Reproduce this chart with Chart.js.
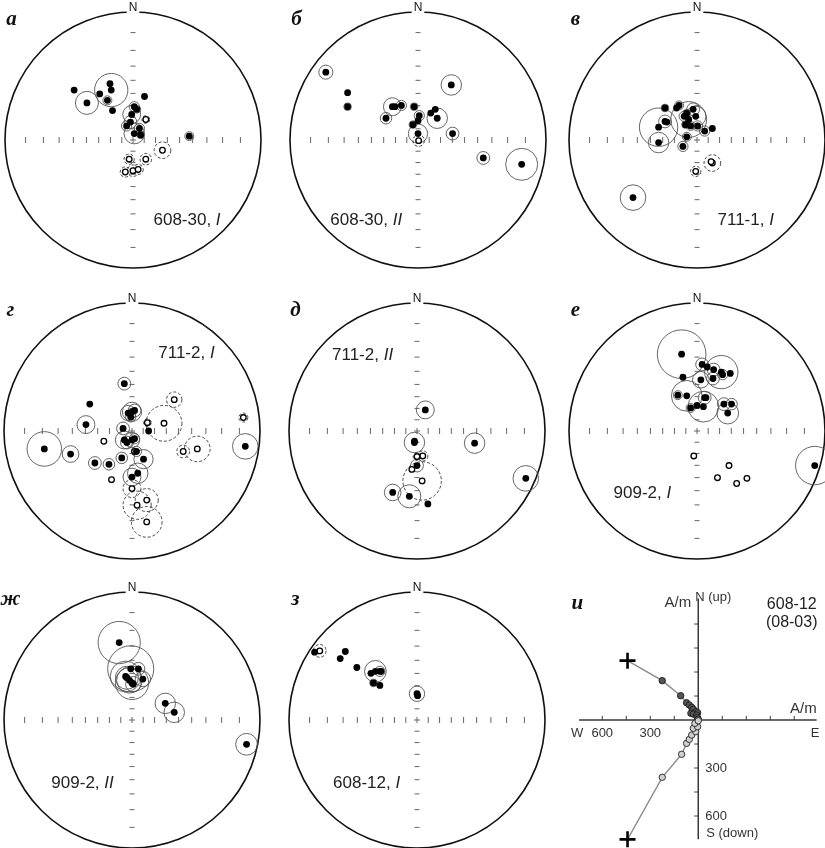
<!DOCTYPE html>
<html lang="ru">
<head>
<meta charset="UTF-8">
<title>Stereonets 608-30 / 711 / 909 / 608-12</title>
<script src="https://cdn.jsdelivr.net/npm/chart.js@4.4.1/dist/chart.umd.min.js"></script>
<style>
    html, body {
        margin: 0;
        padding: 0;
        background: #fff;
        overflow: hidden;
    }
    #fig {
        position: relative;
        width: 825px;
        height: 848px;
    }
    #fig canvas {
        position: absolute;
    }
</style>
</head>
<body>
<div id="fig">
    <canvas id="netA" width="282" height="282"></canvas>
    <canvas id="netB" width="282" height="282"></canvas>
    <canvas id="netC" width="282" height="282"></canvas>
    <canvas id="netD" width="282" height="282"></canvas>
    <canvas id="netE" width="282" height="282"></canvas>
    <canvas id="netF" width="282" height="282"></canvas>
    <canvas id="netG" width="282" height="282"></canvas>
    <canvas id="netH" width="282" height="282"></canvas>
    <canvas id="zij" width="265" height="263"></canvas>
</div>

<script>
    // Directions in Wulff projection coordinates (fraction of net radius): [x (E), y (N), alpha95]
    // lower = lower hemisphere (filled), upper = upper hemisphere (open, dashed circle)
    const netA_lower = [
        [-0.46, 0.39, 0], [-0.36, 0.29, 0.09], [-0.26, 0.36, 0], [-0.18, 0.44, 0], [-0.17, 0.39, 0.13],
        [-0.20, 0.31, 0.035], [-0.16, 0.23, 0], [0.09, 0.34, 0], [0.01, 0.26, 0.04], [-0.01, 0.20, 0.07],
        [0.03, 0.24, 0.03], [-0.05, 0.11, 0.04], [-0.02, 0.14, 0.05], [0.05, 0.09, 0.04], [0.01, 0.05, 0.08],
        [0.06, 0.04, 0.03], [0.44, 0.03, 0.035]
    ];
    const netA_upper = [
        [0.10, 0.16, 0.03], [0.23, -0.08, 0.065], [0.10, -0.15, 0.045], [-0.03, -0.15, 0.04],
        [-0.06, -0.25, 0.04], [0.0, -0.24, 0.045], [0.04, -0.23, 0.04]
    ];

    const netB_lower = [
        [-0.72, 0.53, 0.055], [-0.55, 0.37, 0], [-0.55, 0.26, 0.03], [-0.20, 0.26, 0.07], [-0.18, 0.26, 0],
        [-0.13, 0.27, 0.04], [-0.25, 0.17, 0.045], [-0.03, 0.26, 0.03], [0.01, 0.19, 0.04], [0.0, 0.15, 0],
        [-0.04, 0.12, 0.03], [0.0, 0.05, 0.075], [0.10, 0.21, 0], [0.135, 0.24, 0], [0.15, 0.17, 0.08],
        [0.26, 0.43, 0.08], [0.27, 0.05, 0.05], [0.51, -0.14, 0.05], [0.81, -0.19, 0.125]
    ];
    const netB_upper = [[0.005, -0.005, 0.045]];

    const netC_lower = [
        [-0.25, 0.25, 0.03], [-0.16, 0.25, 0], [-0.14, 0.27, 0.035], [-0.25, 0.145, 0.05], [-0.235, 0.14, 0],
        [-0.30, 0.10, 0.15], [-0.30, -0.02, 0.08], [-0.10, 0.185, 0.04], [-0.08, 0.21, 0.03], [-0.065, 0.16, 0.14],
        [-0.09, 0.12, 0.03], [-0.05, 0.11, 0.035], [-0.03, 0.24, 0.05], [-0.01, 0.185, 0.08], [0.005, 0.11, 0.04],
        [0.06, 0.07, 0.04], [0.12, 0.09, 0], [-0.08, 0.025, 0.035], [-0.11, -0.05, 0.04], [-0.50, -0.45, 0.10]
    ];
    const netC_upper = [[-0.01, -0.245, 0.04], [0.12, -0.18, 0.065], [0.11, -0.17, 0]];

    const netD_lower = [
        [-0.06, 0.37, 0.05], [-0.33, 0.21, 0], [-0.36, 0.05, 0.07], [-0.685, -0.14, 0.135], [-0.48, -0.18, 0.065],
        [-0.29, -0.25, 0.05], [-0.18, -0.26, 0.045], [-0.08, -0.21, 0.045], [0.09, -0.22, 0.075], [0.0, 0.15, 0.075],
        [-0.03, 0.14, 0.06], [0.02, 0.16, 0.05], [-0.01, 0.11, 0.04], [-0.07, 0.02, 0.05], [-0.06, -0.07, 0.07],
        [-0.04, -0.09, 0.05], [0.0, -0.07, 0.06], [0.02, -0.06, 0.04], [0.13, 0.0, 0], [0.035, -0.16, 0.04],
        [0.045, -0.33, 0.08], [0.0, -0.36, 0.07], [0.885, -0.12, 0.10]
    ];
    const netD_upper = [
        [0.33, 0.245, 0.06], [0.87, 0.105, 0.035], [0.25, 0.06, 0.14], [0.12, 0.065, 0.03], [-0.22, -0.08, 0],
        [0.40, -0.16, 0.05], [0.51, -0.14, 0.10], [-0.16, -0.38, 0], [0.0, -0.45, 0.07], [0.115, -0.54, 0.09],
        [0.04, -0.58, 0.11], [0.115, -0.71, 0.12], [0.02, -0.16, 0]
    ];

    const netE_lower = [
        [0.065, 0.165, 0.07], [-0.02, -0.09, 0.08], [-0.02, -0.08, 0], [0.45, -0.095, 0.08], [0.85, -0.37, 0.10],
        [0.0, -0.27, 0.05], [-0.19, -0.48, 0.065], [-0.06, -0.51, 0.09], [0.085, -0.57, 0]
    ];
    const netE_upper = [[0.045, -0.195, 0.04], [0.0, -0.20, 0.03], [-0.04, -0.30, 0], [0.04, -0.39, 0.15]];

    const netF_lower = [
        [-0.12, 0.60, 0.19], [0.04, 0.52, 0.05], [0.08, 0.50, 0], [0.13, 0.48, 0.05], [0.19, 0.46, 0.13],
        [0.20, 0.44, 0.04], [0.26, 0.45, 0], [0.03, 0.40, 0.065], [0.125, 0.41, 0.05], [-0.11, 0.42, 0],
        [-0.15, 0.28, 0.035], [-0.08, 0.275, 0.12], [0.06, 0.26, 0.05], [0.07, 0.26, 0], [-0.05, 0.18, 0.035],
        [0.0, 0.20, 0], [0.05, 0.19, 0.12], [0.21, 0.21, 0.05], [0.27, 0.21, 0.045], [0.24, 0.14, 0.085],
        [0.92, -0.27, 0.15]
    ];
    const netF_upper = [[-0.025, -0.195, 0.02], [0.25, -0.27, 0.015], [0.16, -0.365, 0], [0.31, -0.41, 0], [0.39, -0.37, 0.02]];

    const netG_lower = [
        [-0.10, 0.605, 0.165], [-0.01, 0.40, 0.18], [0.05, 0.40, 0.05], [-0.05, 0.34, 0.12], [-0.04, 0.33, 0.09],
        [-0.02, 0.31, 0.10], [0.0, 0.29, 0.13], [0.01, 0.28, 0.06], [0.085, 0.32, 0.06], [0.26, 0.13, 0.08],
        [0.33, 0.06, 0.08], [0.895, -0.19, 0.085]
    ];
    const netG_upper = [];

    const netH_lower = [
        [-0.80, 0.53, 0], [-0.56, 0.535, 0], [-0.60, 0.48, 0.02], [-0.47, 0.41, 0], [-0.36, 0.365, 0],
        [-0.325, 0.38, 0.085], [-0.29, 0.38, 0.04], [-0.28, 0.38, 0], [-0.34, 0.29, 0.03], [-0.29, 0.27, 0.02],
        [0.0, 0.205, 0.06], [0.005, 0.19, 0]
    ];
    const netH_upper = [[-0.76, 0.54, 0.05]];

    // Zijderveld diagram 608-12 (08-03), A/m: [E, N] horizontal plane (filled), [E, Up] vertical plane (open)
    const zijHoriz = [
        [-442, 371], [-225, 246], [-110, 152], [-73, 108], [-56, 94], [-41, 79], [-31, 67],
        [-16, 52], [-4, 46], [-46, 42], [-31, 37], [-10, 31], [-6, 17], [0, 5]
    ];
    const zijVert = [
        [-442, -746], [-225, -358], [-104, -214], [-73, -146], [-56, -121], [-41, -94],
        [-16, -73], [-31, -52], [-4, -42], [-21, -21], [0, -5]
    ];
    const zijTicks = [-600, -450, -300, -150, 150, 300, 450, 600];

    const panelLetters = ['а', 'б', 'в', 'г', 'д', 'е', 'ж', 'з', 'и'];
    const siteNames = ['608-30, ', '608-30, ', '711-1, ', '711-2, ', '711-2, ', '909-2, ', '909-2, ', '608-12, '];
    const siteComponents = ['I', 'II', 'I', 'I', 'II', 'I', 'II', 'I'];

    const PX_R = 128;          // net radius in px
    const HALF = 141;          // half canvas size in px
    const K = HALF / PX_R;     // canvas half size in net units

    function drawSite(ctx, x, y, name, comp) {
        ctx.textAlign = 'left';
        ctx.textBaseline = 'middle';
        ctx.fillStyle = '#222';
        ctx.font = '17px "Liberation Sans", Arial, sans-serif';
        ctx.fillText(name, x, y);
        const w = ctx.measureText(name).width;
        ctx.font = 'italic 17px "Liberation Sans", Arial, sans-serif';
        ctx.fillText(comp, x + w, y);
    }

    const netPlugin = {
        id: 'net',
        beforeDatasetsDraw(chart, args, opts) {
            const {ctx, scales: {x, y}} = chart;
            const cx = x.getPixelForValue(0), cy = y.getPixelForValue(0);
            const unit = x.getPixelForValue(1) - cx;
            ctx.save();
            // primitive circle
            ctx.beginPath();
            ctx.arc(cx, cy, unit, 0, 2 * Math.PI);
            ctx.lineWidth = 1.6;
            ctx.strokeStyle = '#111';
            ctx.stroke();
            // 10 degree ticks, equal-angle net
            ctx.strokeStyle = '#666';
            ctx.lineWidth = 1;
            for (let inc = 10; inc <= 80; inc += 10) {
                const r = Math.tan((90 - inc) / 2 * Math.PI / 180) * unit;
                [-1, 1].forEach(s => {
                    ctx.beginPath();
                    ctx.moveTo(cx + s * r, cy - 3);
                    ctx.lineTo(cx + s * r, cy + 3);
                    ctx.moveTo(cx - 2.5, cy + s * r);
                    ctx.lineTo(cx + 2.5, cy + s * r);
                    ctx.stroke();
                });
            }
            ctx.beginPath();
            ctx.moveTo(cx - 3, cy); ctx.lineTo(cx + 3, cy);
            ctx.moveTo(cx, cy - 3); ctx.lineTo(cx, cy + 3);
            ctx.stroke();
            // N label
            ctx.font = '12px "Liberation Sans", Arial, sans-serif';
            ctx.textAlign = 'center';
            ctx.textBaseline = 'alphabetic';
            const nw = ctx.measureText('N').width;
            ctx.fillStyle = '#fff';
            ctx.fillRect(cx - nw / 2 - 2, cy - unit - 12, nw + 4, 13);
            ctx.fillStyle = '#111';
            ctx.fillText('N', cx, cy - unit - 1);
            // alpha95 circles
            chart.data.datasets.forEach(ds => {
                ctx.setLineDash(ds.upper ? [3, 2] : []);
                ctx.strokeStyle = ds.upper ? '#333' : '#555';
                ctx.lineWidth = 0.9;
                ds.data.forEach(p => {
                    if (p.a95 > 0) {
                        ctx.beginPath();
                        ctx.arc(x.getPixelForValue(p.x), y.getPixelForValue(p.y), p.a95 * unit, 0, 2 * Math.PI);
                        ctx.stroke();
                    }
                });
            });
            ctx.restore();
        },
        afterDatasetsDraw(chart, args, opts) {
            const {ctx, scales: {x, y}} = chart;
            ctx.save();
            ctx.font = 'bold italic 21px "Liberation Serif", "DejaVu Serif", serif';
            ctx.textAlign = 'center';
            ctx.textBaseline = 'middle';
            ctx.fillStyle = '#111';
            ctx.fillText(opts.letter, x.getPixelForValue(-0.95), y.getPixelForValue(0.94));
            drawSite(ctx, x.getPixelForValue(opts.sitePos[0]), y.getPixelForValue(opts.sitePos[1]), opts.name, opts.comp);
            ctx.restore();
        }
    };

    function makeNet(id, cx, cy, lower, upper, idx, sitePos) {
        const cv = document.getElementById(id);
        cv.style.left = (cx - HALF) + 'px';
        cv.style.top = (cy - HALF) + 'px';
        const toPts = arr => arr.map(p => ({x: p[0], y: p[1], a95: p[2]}));
        return new Chart(cv, {
            type: 'scatter',
            data: {
                datasets: [
                    {
                        data: toPts(lower),
                        upper: false,
                        pointRadius: 3.4,
                        backgroundColor: '#000',
                        borderColor: '#000',
                        borderWidth: 0
                    },
                    {
                        data: toPts(upper),
                        upper: true,
                        pointRadius: 2.8,
                        backgroundColor: '#fff',
                        borderColor: '#000',
                        borderWidth: 1.3
                    }
                ]
            },
            options: {
                responsive: false,
                animation: false,
                layout: {padding: 0, autoPadding: false},
                scales: {
                    x: {type: 'linear', min: -K, max: K, display: false},
                    y: {type: 'linear', min: -K, max: K, display: false}
                },
                plugins: {
                    legend: {display: false},
                    tooltip: {enabled: false},
                    net: {
                        letter: panelLetters[idx],
                        name: siteNames[idx],
                        comp: siteComponents[idx],
                        sitePos: sitePos
                    }
                }
            },
            plugins: [netPlugin]
        });
    }

    makeNet('netA', 133.3, 140.3, netA_lower, netA_upper, 0, [0.16, -0.625]);
    makeNet('netB', 417.7, 140.3, netB_lower, netB_upper, 1, [-0.685, -0.625]);
    makeNet('netC', 696.7, 140.3, netC_lower, netC_upper, 2, [0.16, -0.625]);
    makeNet('netD', 132.0, 431.0, netD_lower, netD_upper, 3, [0.205, 0.607]);
    makeNet('netE', 416.7, 431.0, netE_lower, netE_upper, 4, [-0.664, 0.594]);
    makeNet('netF', 696.7, 431.0, netF_lower, netF_upper, 5, [-0.652, -0.487]);
    makeNet('netG', 132.3, 720.0, netG_lower, netG_upper, 6, [-0.63, -0.495]);
    makeNet('netH', 417.3, 720.0, netH_lower, netH_upper, 7, [-0.656, -0.495]);

    // ---- Zijderveld diagram ----
    const zijPlugin = {
        id: 'zijAxes',
        beforeDatasetsDraw(chart) {
            const {ctx, scales: {x, y}} = chart;
            const ox = x.getPixelForValue(0), oy = y.getPixelForValue(0);
            ctx.save();
            ctx.strokeStyle = '#3a3a3a';
            ctx.lineWidth = 1.5;
            ctx.beginPath();
            ctx.moveTo(x.getPixelForValue(-745), oy);
            ctx.lineTo(x.getPixelForValue(740), oy);
            ctx.moveTo(ox, y.getPixelForValue(760));
            ctx.lineTo(ox, y.getPixelForValue(-745));
            ctx.stroke();
            ctx.lineWidth = 1;
            zijTicks.forEach(t => {
                ctx.beginPath();
                ctx.moveTo(x.getPixelForValue(t), oy - 4);
                ctx.lineTo(x.getPixelForValue(t), oy);
                ctx.moveTo(ox - 4, y.getPixelForValue(t));
                ctx.lineTo(ox, y.getPixelForValue(t));
                ctx.stroke();
            });
            ctx.fillStyle = '#333';
            ctx.textBaseline = 'alphabetic';
            ctx.font = '13px "Liberation Sans", Arial, sans-serif';
            ctx.textAlign = 'left';
            ctx.fillText('W', x.getPixelForValue(-795), oy + 17);
            ctx.textAlign = 'center';
            ctx.fillText('600', x.getPixelForValue(-600), oy + 17);
            ctx.fillText('300', x.getPixelForValue(-300), oy + 17);
            ctx.fillText('E', x.getPixelForValue(730), oy + 17);
            ctx.textAlign = 'left';
            ctx.textBaseline = 'middle';
            ctx.fillText('300', ox + 7, y.getPixelForValue(-300));
            ctx.fillText('600', ox + 7, y.getPixelForValue(-600));
            ctx.textBaseline = 'alphabetic';
            ctx.fillText('N (up)', ox - 3, y.getPixelForValue(760) + 3);
            ctx.fillText('S (down)', ox + 8, y.getPixelForValue(-745) - 2);
            ctx.font = '15px "Liberation Sans", Arial, sans-serif';
            ctx.textAlign = 'right';
            ctx.fillText('A/m', ox - 7, y.getPixelForValue(705));
            ctx.fillText('A/m', x.getPixelForValue(740), oy - 7);
            ctx.font = '16px "Liberation Sans", Arial, sans-serif';
            ctx.fillStyle = '#222';
            ctx.fillText('608-12', x.getPixelForValue(740), y.getPixelForValue(695));
            ctx.fillText('(08-03)', x.getPixelForValue(745), y.getPixelForValue(580));
            ctx.font = 'bold italic 21px "Liberation Serif", "DejaVu Serif", serif';
            ctx.textAlign = 'center';
            ctx.textBaseline = 'middle';
            ctx.fillStyle = '#111';
            ctx.fillText(panelLetters[8], x.getPixelForValue(-755), y.getPixelForValue(730));
            ctx.restore();
        }
    };

    const zcv = document.getElementById('zij');
    zcv.style.left = '560px';
    zcv.style.top = '585px';
    const first = c => c.dataIndex === 0;
    new Chart(zcv, {
        type: 'scatter',
        data: {
            datasets: [
                {
                    data: zijVert.map(p => ({x: p[0], y: p[1]})),
                    showLine: true,
                    borderColor: '#8c8c8c',
                    borderWidth: 1.4,
                    tension: 0,
                    pointStyle: c => first(c) ? 'cross' : 'circle',
                    pointRadius: c => first(c) ? 8 : 3.2,
                    pointBackgroundColor: '#cfcfcf',
                    pointBorderColor: c => first(c) ? '#000' : '#333',
                    pointBorderWidth: c => first(c) ? 2.6 : 1
                },
                {
                    data: zijHoriz.map(p => ({x: p[0], y: p[1]})),
                    showLine: true,
                    borderColor: '#8c8c8c',
                    borderWidth: 1.4,
                    tension: 0,
                    pointStyle: c => first(c) ? 'cross' : 'circle',
                    pointRadius: c => first(c) ? 8 : 3.2,
                    pointBackgroundColor: '#555',
                    pointBorderColor: c => first(c) ? '#000' : '#222',
                    pointBorderWidth: c => first(c) ? 2.6 : 1
                }
            ]
        },
        options: {
            responsive: false,
            animation: false,
            layout: {padding: 0, autoPadding: false},
            scales: {
                x: {type: 'linear', min: -864, max: 792, display: false},
                y: {type: 'linear', min: -800, max: 844, display: false}
            },
            plugins: {
                legend: {display: false},
                tooltip: {enabled: false}
            }
        },
        plugins: [zijPlugin]
    });
</script>
</body>
</html>
